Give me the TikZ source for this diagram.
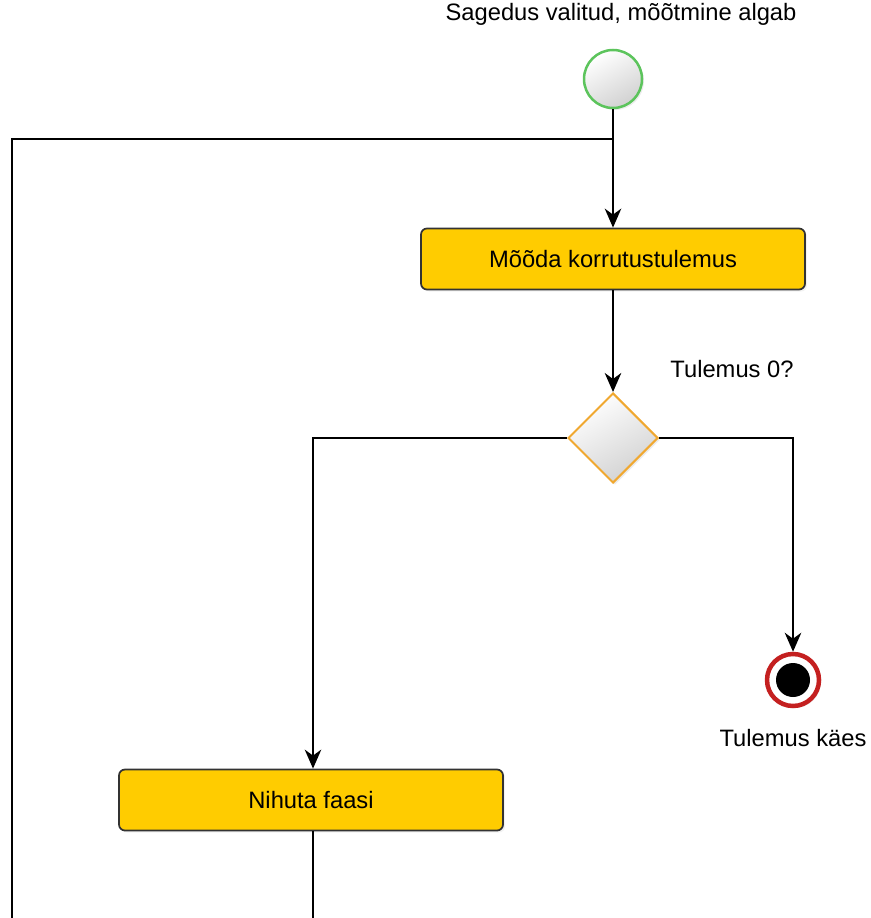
\documentclass[tikz,border=0pt]{standalone}
\usepackage{fontspec}
\setmainfont{Liberation Sans}
\usetikzlibrary{positioning, calc, arrows.meta, shapes.geometric, shadows}
\tikzset{>={Stealth[length=3.8mm, width=3.3mm, inset=1.2mm]}}
\definecolor{boxyellow}{HTML}{FFCC00}
\definecolor{startgreen}{HTML}{5CC45C}
\definecolor{choiceorange}{HTML}{F0A830}
\definecolor{endred}{HTML}{C42020}

\begin{document}
\begin{tikzpicture}
    [
        x=0.2mm, y=-0.2mm, font=\fontsize{13.5}{16}\selectfont,
        start_node/.style={circle, draw=startgreen, line width=0.5mm, shading=axis, top color=white, bottom color=black!18, shading angle=30, minimum size=11.6mm, drop shadow={opacity=0.15, shadow xshift=0.4mm, shadow yshift=-0.4mm}},
        end_node/.style={circle, draw=endred, line width=0.9mm, fill=white, minimum size=10.4mm, drop shadow={opacity=0.15, shadow xshift=0.4mm, shadow yshift=-0.4mm}, path picture={\fill[black] (path picture bounding box.center) circle (3.4mm);}},
        action_node/.style={rectangle, rounded corners=1.2mm, draw=black!80, line width=0.35mm, fill=boxyellow, minimum width=76.8mm, minimum height=12.2mm, drop shadow={opacity=0.1, shadow xshift=0.4mm, shadow yshift=-0.4mm}},
        choice_node/.style={diamond, draw=choiceorange, line width=0.4mm, shading=axis, top color=white, bottom color=black!18, shading angle=30, minimum width=18mm, minimum height=18mm, inner sep=0pt, drop shadow={opacity=0.15, shadow xshift=0.4mm, shadow yshift=-0.4mm}},
        flow/.style={line width=0.38mm},
    ]
  \useasboundingbox (0,0) rectangle (870,918);

  \node[start_node, label={[label distance=3.4mm, xshift=1.6mm]above:{Sagedus valitud, mõõtmine algab}}] (start) at (613,79) {};
  \node[action_node] (measure) at (613,259) {Mõõda korrutustulemus};
  \node[choice_node] (check) at (613,438) {};
  \node (question) at (732,369) {Tulemus 0?};
  \node[end_node, label={[label distance=3mm]below:{Tulemus käes}}] (done) at (793,680) {};
  \node[action_node] (shift) at (311,800) {Nihuta faasi};

  \coordinate (join) at (613,139);
  \coordinate (loopTop) at (12,139);
  \coordinate (loopBottom) at (12,918);
  \coordinate (shiftOut) at (313,918);

  \draw[flow, ->] (start) -- (measure);
  \draw[flow] (loopBottom) -- (loopTop) -- (join);
  \draw[flow, ->] (measure) -- (check);
  \draw[flow, ->] (check.west) -| ($(shift.north)+(2,0)$);
  \draw[flow, ->] (check.east) -| (done);
  \draw[flow] ($(shift.south)+(2,0)$) -- (shiftOut);
\end{tikzpicture}
\end{document}
